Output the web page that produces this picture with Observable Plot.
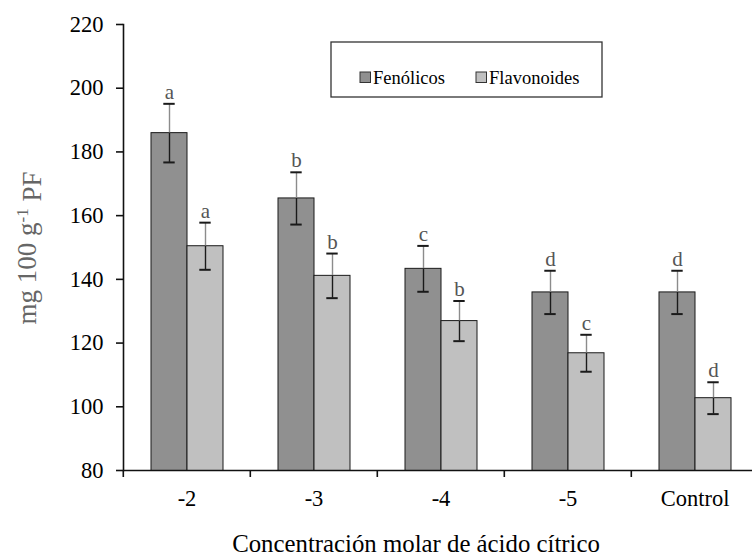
<!DOCTYPE html>
<html>
<head>
<meta charset="utf-8">
<script src="https://cdn.jsdelivr.net/npm/d3@7"></script>
<script src="https://cdn.jsdelivr.net/npm/@observablehq/plot@0.6"></script>
<style>
  html, body { margin: 0; padding: 0; background: white; }
  #chart { width: 752px; height: 560px; overflow: hidden; }
</style>
</head>
<body>
<div id="chart"></div>
<script>
const categories = ["-2", "-3", "-4", "-5", "Control"];
const series = ["Fenólicos", "Flavonoides"];
const fenolicos = [185.9, 165.4, 143.3, 135.9, 135.9];
const flavonoides = [150.4, 141.1, 126.9, 116.8, 102.7];
const fenolicosErr = [9.2, 8.2, 7.2, 6.8, 6.8];
const flavonoidesErr = [7.4, 7.0, 6.3, 5.8, 5.0];
const fenolicosLetters = ["a", "b", "c", "d", "d"];
const flavonoidesLetters = ["a", "b", "b", "c", "d"];
const yTicks = [80, 100, 120, 140, 160, 180, 200, 220];
const colors = ["#909090", "#c0c0c0"];

const data = [];
categories.forEach((c, i) => {
  data.push({cat: c, series: series[0], value: fenolicos[i], err: fenolicosErr[i], letter: fenolicosLetters[i]});
  data.push({cat: c, series: series[1], value: flavonoides[i], err: flavonoidesErr[i], letter: flavonoidesLetters[i]});
});

const font = "'Liberation Serif', 'Times New Roman', serif";
const W = 752, H = 560, mL = 122, mR = -7, mT = 24, mB = 90;
const bandPx = (W - mL - mR) / categories.length;

const plot = Plot.plot({
  width: W, height: H,
  marginLeft: mL, marginRight: mR, marginTop: mT, marginBottom: mB,
  style: {fontFamily: font, fontSize: "22px", color: "black", background: "white", overflow: "visible"},
  fx: {domain: categories, padding: 0, label: null},
  x: {domain: series, paddingInner: 0, paddingOuter: 0.75, axis: null},
  y: {domain: [80, 220], label: null},
  color: {domain: series, range: colors},
  marks: [
    Plot.barY(data, {fx: "cat", x: "series", y: "value", fill: "series", stroke: "#1a1a1a", strokeWidth: 1, clip: true}),
    Plot.ruleX(data, {fx: "cat", x: "series", y1: "value", y2: d => d.value + d.err, stroke: "#8c8c8c", strokeWidth: 1.4}),
    Plot.ruleX(data, {fx: "cat", x: "series", y1: d => d.value - d.err, y2: "value", stroke: "#1a1a1a", strokeWidth: 1.4}),
    Plot.tickY(data, {fx: "cat", x: "series", y: d => d.value + d.err, stroke: "#1a1a1a", strokeWidth: 2, inset: 12.3}),
    Plot.tickY(data, {fx: "cat", x: "series", y: d => d.value - d.err, stroke: "#1a1a1a", strokeWidth: 2, inset: 12.3}),
    Plot.text(data, {fx: "cat", x: "series", y: d => d.value + d.err, text: "letter", lineAnchor: "bottom", dy: -5, fill: "#555", fontSize: 21}),
    Plot.ruleY([80], {stroke: "#111", strokeWidth: 1.6}),
    Plot.frame({anchor: "left", facetAnchor: "left", stroke: "#111", strokeWidth: 1.6}),
    Plot.axisY({ticks: yTicks, tickSize: 7, tickPadding: 13, fontSize: 22.5, label: null, stroke: "#111", strokeWidth: 1.6}),
    Plot.axisFx({anchor: "bottom", text: null, tickSize: 7, dx: -bandPx / 2, stroke: "#111", strokeWidth: 1.6, label: null}),
    Plot.axisFx({anchor: "bottom", tickSize: 0, tickPadding: 20, fontSize: 22.5, label: null})
  ]
});

document.getElementById("chart").appendChild(plot);

const svg = d3.select(plot);

// X axis title
svg.append("text")
  .attr("x", 416).attr("y", 552)
  .attr("text-anchor", "middle")
  .style("font-family", font).style("font-size", "24.8px").attr("fill", "black")
  .text("Concentración molar de ácido cítrico");

// Y axis title with superscript
const yt = svg.append("text")
  .attr("transform", "translate(36,248) rotate(-90)")
  .attr("text-anchor", "middle")
  .style("font-family", font).style("font-size", "27px").attr("fill", "#666");
yt.append("tspan").text("mg 100 g");
yt.append("tspan").attr("dy", "-0.45em").style("font-size", "17px").text("-1");
yt.append("tspan").attr("dy", "0.45em").text(" PF");

// Legend
const lg = svg.append("g");
lg.append("rect").attr("x", 331).attr("y", 42).attr("width", 271).attr("height", 55)
  .attr("fill", "white").attr("stroke", "#333").attr("stroke-width", 1.3);
const items = [[360, series[0], colors[0]], [476, series[1], colors[1]]];
items.forEach(([x, name, col]) => {
  lg.append("rect").attr("x", x).attr("y", 72).attr("width", 10.5).attr("height", 10.5)
    .attr("fill", col).attr("stroke", "#333").attr("stroke-width", 1);
  lg.append("text").attr("x", x + 13).attr("y", 83.5)
    .attr("text-anchor", "start")
    .style("font-family", font).style("font-size", "18.5px").attr("fill", "black").text(name);
});
</script>
</body>
</html>
